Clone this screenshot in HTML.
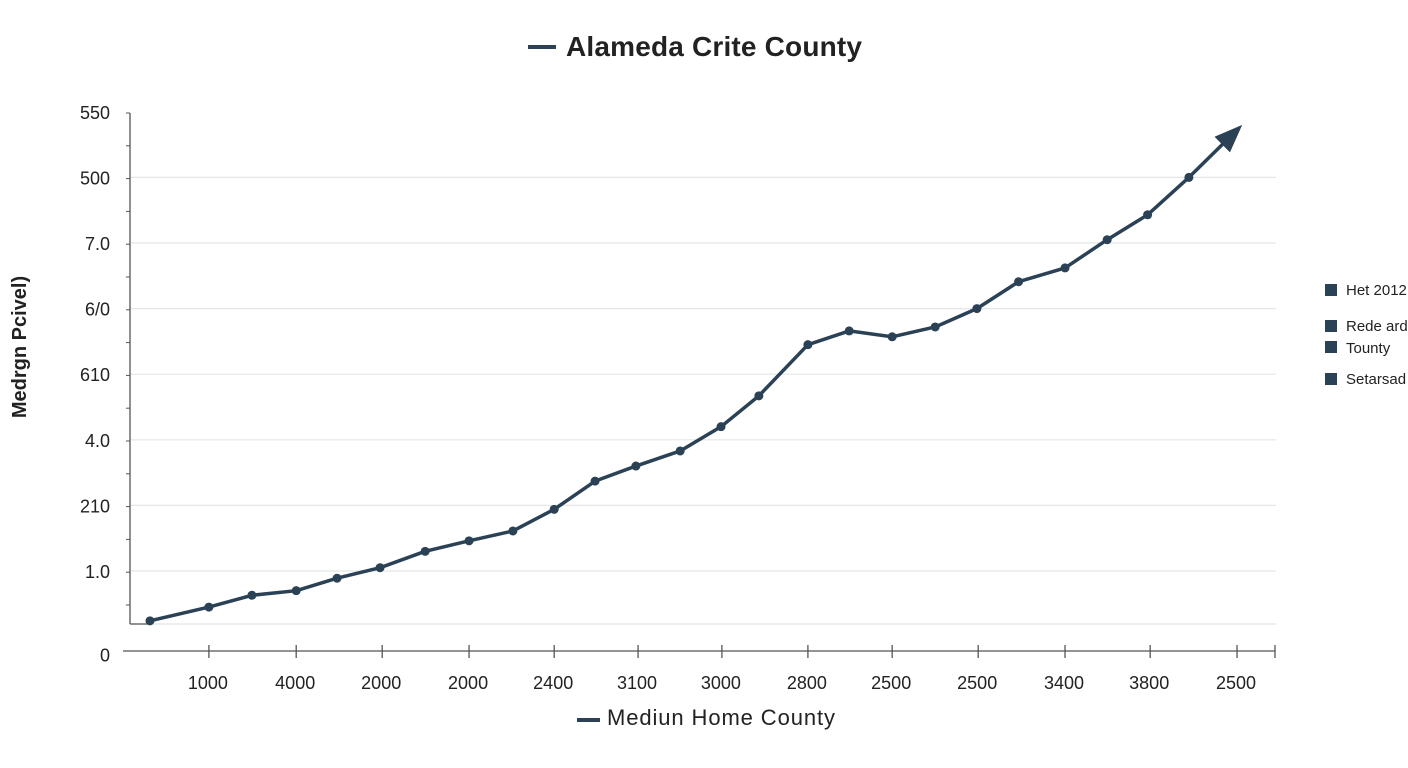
<!DOCTYPE html>
<html><head><meta charset="utf-8"><style>
body{margin:0;background:#fff;font-family:"Liberation Sans",sans-serif;}
svg{display:block}
</style></head><body>
<svg id="c" width="1408" height="768">
<g>
<rect x="528" y="45" width="28" height="4" fill="#2b4155"/>
<text x="566" y="56" font-size="28" fill="#222" font-weight="bold" textLength="296">Alameda Crite County</text>
</g>
<text transform="translate(26,347) rotate(-90)" text-anchor="middle" font-size="20" font-weight="bold" fill="#222">Medrgn Pcivel)</text>
<g>
<rect x="577" y="718" width="23" height="4" fill="#2b4155"/>
<text x="607" y="725" font-size="22" fill="#222" textLength="228">Mediun Home County</text>
</g>
<g id="grid"></g><g id="axes"></g><g id="series"></g>
<g font-size="15" fill="#222">
<rect x="1325" y="284" width="12" height="12" fill="#2b4155"/><text x="1346" y="295">Het 2012</text>
<rect x="1325" y="320" width="12" height="12" fill="#2b4155"/><text x="1346" y="331">Rede ard</text>
<rect x="1325" y="341" width="12" height="12" fill="#2b4155"/><text x="1346" y="353">Tounty</text>
<rect x="1325" y="373" width="12" height="12" fill="#2b4155"/><text x="1346" y="384">Setarsad</text>
</g>
</svg>
<script>
const xValues=[0,1.37,2.37,3.4,4.35,5.35,6.4,7.42,8.44,9.4,10.35,11.3,12.33,13.28,14.16,15.3,16.26,17.26,18.26,19.23,20.2,21.28,22.26,23.2,24.16];
const values=[0.24,0.45,0.63,0.70,0.89,1.05,1.30,1.46,1.61,1.94,2.37,2.60,2.83,3.20,3.67,4.45,4.66,4.57,4.72,5.0,5.41,5.62,6.05,6.43,7.0];
const arrowX=25.4;
const arrowValue=7.8;
const yTickLabels=["0","1.0","210","4.0","610","6/0","7.0","500","550"];
const yTickValues=[-0.27,1,2,3,4,5,6,7,8];
const xTickLabels=["1000","4000","2000","2000","2400","3100","3000","2800","2500","2500","3400","3800","2500"];
const xTickValues=[1.37,3.4,5.4,7.42,9.4,11.35,13.3,15.3,17.26,19.26,21.28,23.26,25.28];
const NS="http://www.w3.org/2000/svg";
const X=u=>150+43*u;
const Y=v=>636.6-v*65.6;
function mk(tag,attrs,parent){const e=document.createElementNS(NS,tag);for(const k in attrs)e.setAttribute(k,attrs[k]);parent.appendChild(e);return e;}
const grid=document.getElementById('grid'),axes=document.getElementById('axes'),ser=document.getElementById('series');
yTickValues.forEach((v,i)=>{
  if(v>=1&&v<=7){const g=mk('line',{x1:130,x2:1276,y1:Y(v),y2:Y(v),stroke:'#e4e6e8','stroke-width':1.2},grid);
  
  }
  const t=mk('text',{x:110,y:Y(v)+7,'text-anchor':'end','font-size':18,fill:'#222'},axes);
  t.textContent=yTickLabels[i];
  
  
});
for(let k=0;k<16;k++){const yy=113+k*32.8;mk('line',{x1:126,x2:130,y1:yy,y2:yy,stroke:'#555','stroke-width':1},axes);}
mk('line',{x1:130,x2:1276,y1:624,y2:624,stroke:'#e4e6e8','stroke-width':1.2},grid);
mk('line',{x1:130,x2:130,y1:113,y2:624,stroke:'#555','stroke-width':1.3},axes);
mk('line',{x1:130,x2:150,y1:624,y2:624,stroke:'#555','stroke-width':1.3},axes);
const xa=mk('line',{x1:123,x2:1275,y1:651,y2:651,stroke:'#555','stroke-width':1.3},axes);


mk('line',{x1:1275,x2:1275,y1:645,y2:658,stroke:'#555','stroke-width':1.3},axes);
xTickValues.forEach((xv,i)=>{
  mk('line',{x1:X(xv),x2:X(xv),y1:645,y2:658,stroke:'#555','stroke-width':1.3},axes);
  const t=mk('text',{x:X(xv)-1,y:689,'text-anchor':'middle','font-size':18,fill:'#222'},axes);
  t.textContent=xTickLabels[i];
  
  
});
let d=values.map((v,i)=>(i?'L':'M')+X(xValues[i])+' '+Y(v)).join(' ');
const last=values.length-1;
const ax=X(arrowX),ay=Y(arrowValue),bx=X(xValues[last]),by=Y(values[last]);
const ang=Math.atan2(ay-by,ax-bx);
const sx=ax-22*Math.cos(ang),sy=ay-22*Math.sin(ang);
d+=' L'+sx+' '+sy;
const p=mk('path',{d:d,fill:'none',stroke:'#2b4155','stroke-width':3.5,'stroke-linejoin':'round'},ser);


const w=11,hx=ax-28*Math.cos(ang),hy=ay-28*Math.sin(ang);
const ah=mk('polygon',{points:`${ax},${ay} ${hx+w*Math.sin(ang)},${hy-w*Math.cos(ang)} ${hx-w*Math.sin(ang)},${hy+w*Math.cos(ang)}`,fill:'#2b4155'},ser);


values.forEach((v,i)=>{const c=mk('circle',{cx:X(xValues[i]),cy:Y(v),r:4.5,fill:'#2b4155'},ser);
  
  });
</script>
</body></html>
